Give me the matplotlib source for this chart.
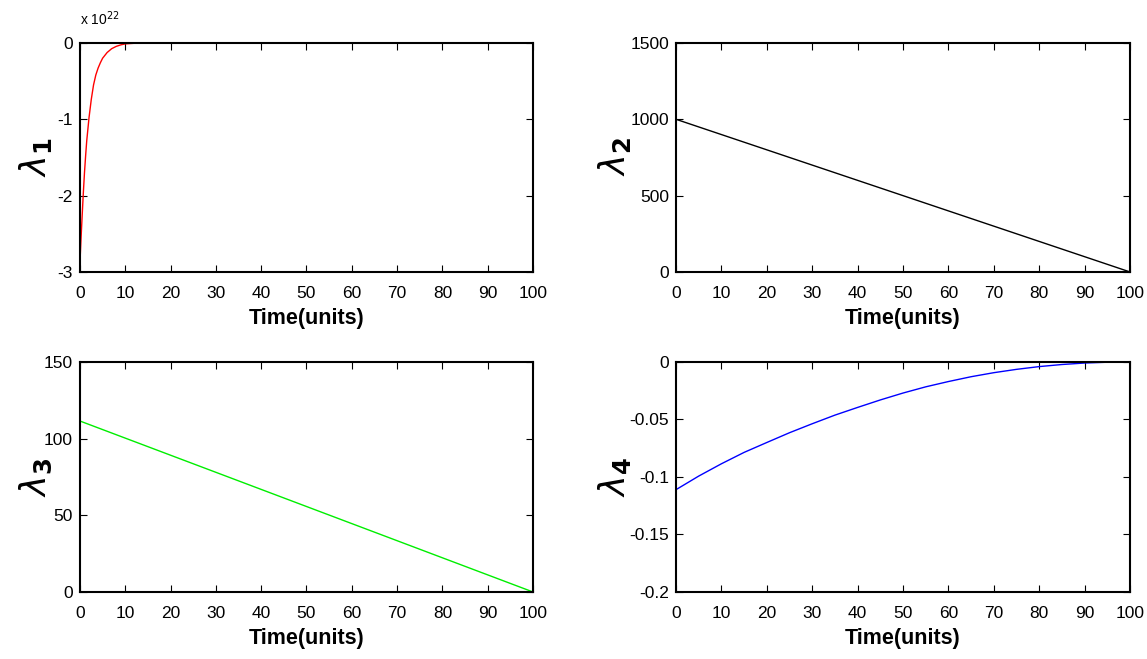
import matplotlib
matplotlib.use('Agg')
import matplotlib.pyplot as plt

plt.rcParams['font.family'] = ['Liberation Sans', 'DejaVu Sans']
plt.rcParams['mathtext.fontset'] = 'dejavusans'

# lambda_1 (units of 1e22)
t1 = [0, 0.25, 0.5, 0.75, 1, 1.25, 1.5, 2, 2.5, 3, 3.5, 4, 4.5, 5, 6, 7, 8, 9, 10, 12, 15, 100]
lam1 = [-2.88, -2.55, -2.25, -1.96, -1.70, -1.48, -1.28, -0.98, -0.74, -0.55,
        -0.42, -0.33, -0.26, -0.20, -0.125, -0.075, -0.045, -0.025, -0.012,
        -0.004, 0.0, 0.0]

# lambda_2 and lambda_3 are straight lines
t2 = [0, 100]
lam2 = [1000, 0]
t3 = [0, 100]
lam3 = [111.5, 0]

# lambda_4
t4 = [0, 5, 10, 15, 20, 25, 30, 35, 40, 45, 50, 55, 60, 65, 70, 75, 80, 85, 90, 95, 100]
lam4 = [-0.111, -0.0992, -0.0885, -0.0786, -0.0700, -0.0615, -0.0537, -0.0462,
        -0.0395, -0.0330, -0.0270, -0.0216, -0.0170, -0.0128, -0.0093, -0.0064,
        -0.0040, -0.0022, -0.0009, -0.0002, 0.0]

xticks = list(range(0, 101, 10))

panels = [
    (t1, lam1, 'red', '1', [-3, -2, -1, 0], ['-3', '-2', '-1', '0'], (-3, 0)),
    (t2, lam2, 'black', '2', [0, 500, 1000, 1500], ['0', '500', '1000', '1500'], (0, 1500)),
    (t3, lam3, '#00ee00', '3', [0, 50, 100, 150], ['0', '50', '100', '150'], (0, 150)),
    (t4, lam4, 'blue', '4', [-0.2, -0.15, -0.1, -0.05, 0],
     ['-0.2', '-0.15', '-0.1', '-0.05', '0'], (-0.2, 0)),
]

rects = [
    [0.0697, 0.5873, 0.395, 0.3475],
    [0.5894, 0.5873, 0.3958, 0.3475],
    [0.0697, 0.1017, 0.395, 0.349],
    [0.5894, 0.1017, 0.3958, 0.349],
]
# where the rotated lambda labels sit (figure fraction)
ylab_pos = [(0.031, 0.762), (0.536, 0.762), (0.031, 0.276), (0.536, 0.276)]

fig = plt.figure(figsize=(11.47, 6.59), dpi=100)

for rect, lp, (t, lam, col, sub, yt, ytl, ylim) in zip(rects, ylab_pos, panels):
    ax = fig.add_axes(rect)
    ax.plot(t, lam, color=col, linewidth=1.0)
    ax.set_xlim(0, 100)
    ax.set_ylim(*ylim)
    ax.set_xticks(xticks)
    ax.set_xticklabels([str(v) for v in xticks])
    ax.set_yticks(yt)
    ax.set_yticklabels(ytl)
    ax.tick_params(direction='in', top=True, right=True, length=5, width=0.8,
                   labelsize=12.5)
    ax.tick_params(axis='x', pad=10)
    ax.tick_params(axis='y', pad=5)
    for s in ax.spines.values():
        s.set_linewidth(1.5)
    ax.set_xlabel('Time(units)', fontsize=15.5, fontweight='bold', labelpad=5)
    fig.text(lp[0], lp[1], r'$\lambda_{\mathbf{' + sub + '}}$', fontsize=25,
             rotation=90, ha='center', va='center')

fig.text(0.0697, 0.958, r'x 10$^{22}$', fontsize=10, ha='left', va='bottom')

fig.savefig('out.png', dpi=100)
